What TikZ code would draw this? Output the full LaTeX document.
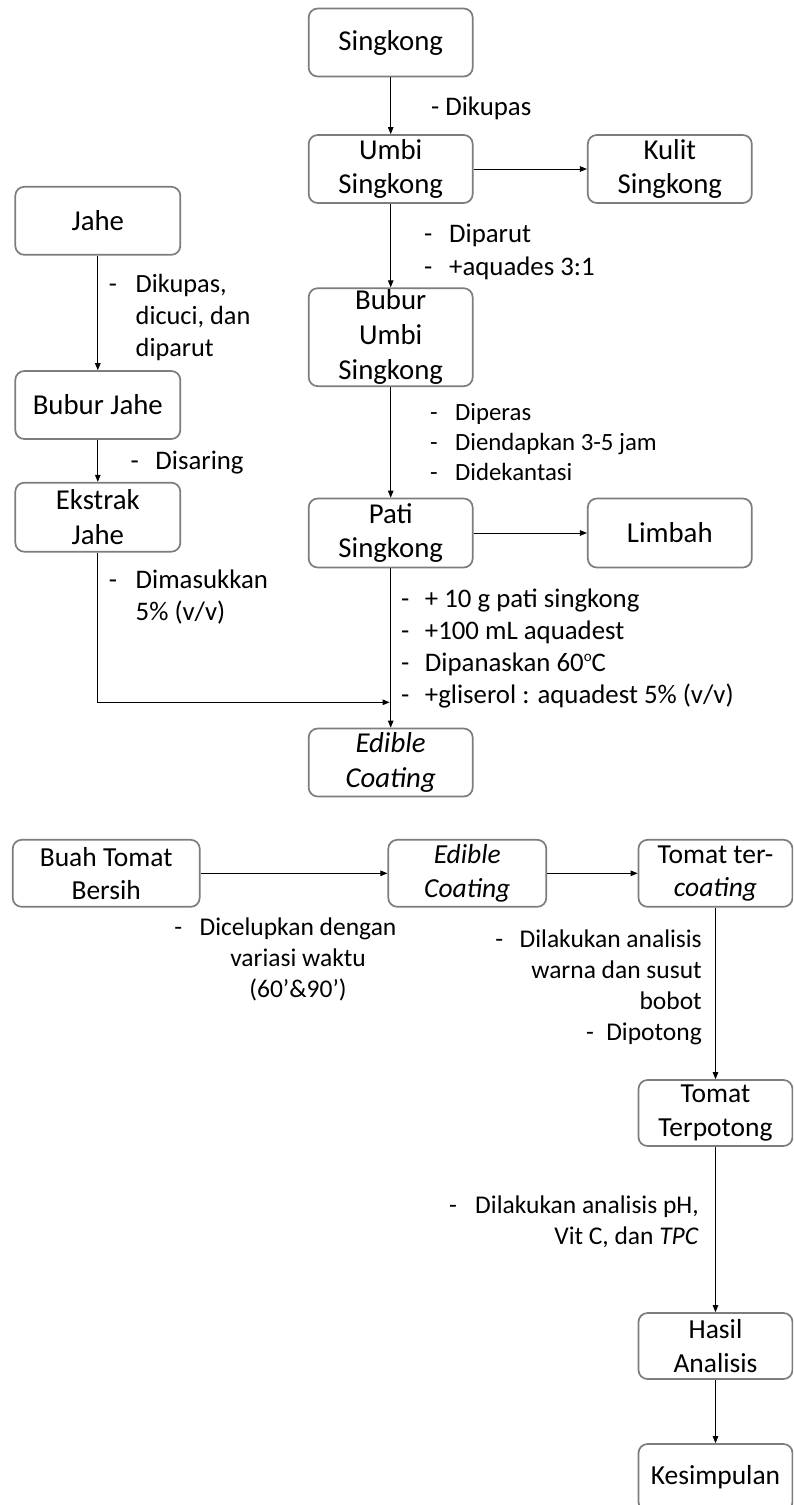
\documentclass[tikz,border=0pt]{standalone}
\usepackage{fontspec}
\setmainfont{Carlito}
\usetikzlibrary{arrows.meta}
\definecolor{boxgray}{RGB}{125,125,125}
\tikzset{
  box/.style={draw=boxgray, line width=1.7pt, rounded corners=9pt, align=center,
    inner sep=0pt, font=\fontsize{28.8}{34.8}\selectfont},
  lowbox/.style={box, font=\fontsize{27.5}{33.3}\selectfont},
  arr/.style={-{Triangle[length=7pt,width=5.5pt]}, line width=0.9pt, black},
  lbl/.style={align=left, inner sep=0pt, anchor=west},
  lblr/.style={align=right, inner sep=0pt, anchor=east},
  fA/.style={font=\fontsize{26.8}{32.2}\selectfont},
  fB/.style={font=\fontsize{24.8}{30}\selectfont},
  fC/.style={font=\fontsize{25.5}{31}\selectfont}
}
\newcommand{\dsh}[1]{\makebox[#1][l]{-}}
\newcommand{\degsup}{\raisebox{10.5pt}{\fontsize{15}{15}\selectfont o}}
\begin{document}
\begin{tikzpicture}[x=1pt,y=-1pt]
\clip (0,0) rectangle (793,1505);
\fill[white] (0,0) rectangle (793,1505);
% boxes - upper part
\node[box, minimum width=164pt, minimum height=68pt] (singkong) at (390.7,42.5) {Singkong};
\node[box, minimum width=164pt, minimum height=68pt] (umbi) at (390.7,169) {Umbi\\Singkong};
\node[box, minimum width=164pt, minimum height=68pt] (kulit) at (669.8,169) {Kulit\\Singkong};
\node[box, minimum width=165pt, minimum height=68pt] (jahe) at (97.8,220.8) {Jahe};
\node[box, minimum width=164pt, minimum height=98pt] (bubur) at (390.7,337.2) {Bubur\\Umbi\\Singkong};
\node[box, minimum width=165pt, minimum height=68pt] (bjahe) at (97.8,405) {Bubur Jahe};
\node[box, minimum width=165pt, minimum height=69pt] (ekstrak) at (97.8,517.2) {Ekstrak\\Jahe};
\node[box, minimum width=164pt, minimum height=69pt] (pati) at (390.7,533) {Pati\\Singkong};
\node[box, minimum width=164pt, minimum height=69pt] (limbah) at (669.8,533) {Limbah};
\node[box, minimum width=164pt, minimum height=68pt] (edible1) at (390.7,762.5) {\textit{Edible}\\\textit{Coating}};
% boxes - lower part
\node[lowbox, minimum width=187pt, minimum height=67pt] (buah) at (106.2,873.3) {Buah Tomat\\Bersih};
\node[lowbox, minimum width=158pt, minimum height=67pt] (edible2) at (467.3,873.3) {\textit{Edible}\\\textit{Coating}};
\node[lowbox, minimum width=154pt, minimum height=67pt] (tercoat) at (715.5,873.3) {Tomat ter-\\\textit{coating}};
\node[lowbox, minimum width=154pt, minimum height=66pt] (terpotong) at (715.5,1113) {Tomat\\Terpotong};
\node[lowbox, minimum width=154pt, minimum height=66pt] (hasil) at (715.5,1346) {Hasil\\Analisis};
\node[lowbox, minimum width=154pt, minimum height=67pt] (kesimpulan) at (715.5,1477.5) {Kesimpulan};
% connectors
\draw[arr] (singkong) -- (umbi);
\draw[arr] (umbi) -- (kulit);
\draw[arr] (umbi) -- (bubur);
\draw[arr] (bubur) -- (pati);
\draw[arr] (pati) -- (limbah);
\draw[arr] (pati) -- (edible1);
\draw[arr] (jahe) -- (bjahe);
\draw[arr] (bjahe) -- (ekstrak);
\coordinate (jn) at (389.6,702.3);
\draw[arr] (ekstrak.south) |- (jn);
\draw[arr] (buah) -- (edible2);
\draw[arr] (edible2) -- (tercoat);
\draw[arr] (tercoat) -- (terpotong);
\draw[arr] (terpotong) -- (hasil);
\draw[arr] (hasil) -- (kesimpulan);
% labels
\node[lbl, fA] (l1) at (430.9,108) {- Dikupas};
\node[lbl, fA] (l2) at (423.8,252) {\dsh{25.2pt}Diparut\\\dsh{25.2pt}+aquades 3:1};
\node[lbl, font=\fontsize{26.3}{31.7}\selectfont] (l3) at (108.7,317.5) {\dsh{26.8pt}Dikupas,\\\hspace*{26.8pt}dicuci, dan\\\hspace*{26.8pt}diparut};
\node[lbl, fB] (l4) at (430,442.5) {\dsh{25pt}Diperas\\\dsh{25pt}Diendapkan 3-5 jam\\\dsh{25pt}Didekantasi};
\node[lbl, fA] (l5) at (130.5,462.5) {\dsh{24.8pt}Disaring};
\node[lbl, fA] (l6) at (108.7,597) {\dsh{26.8pt}Dimasukkan\\\hspace*{26.8pt}5\% (v/v)};
\node[lbl, fA] (l7) at (401,648.5) {\dsh{23.8pt}+ 10 g pati singkong\\\dsh{23.8pt}+100 mL aquadest\\\dsh{23.8pt}Dipanaskan 60\degsup C\\\dsh{23.8pt}+gliserol : aquadest 5\% (v/v)};
\node[align=center, inner sep=0pt, fC] (l8) at (298,959) {\makebox[0pt][r]{-\hspace*{17.3pt}}Dicelupkan dengan\\variasi waktu\\(60’\&90’)};
\node[lblr, fC] (l9) at (702,987.5) {-\hspace*{16.6pt}Dilakukan analisis\\warna dan susut\\bobot\\-\hspace*{12.4pt}Dipotong};
\node[lblr, fC] (l10) at (699,1221.5) {-\hspace*{18.2pt}Dilakukan analisis pH,\\Vit C, dan \textit{TPC}};
\end{tikzpicture}
\end{document}
